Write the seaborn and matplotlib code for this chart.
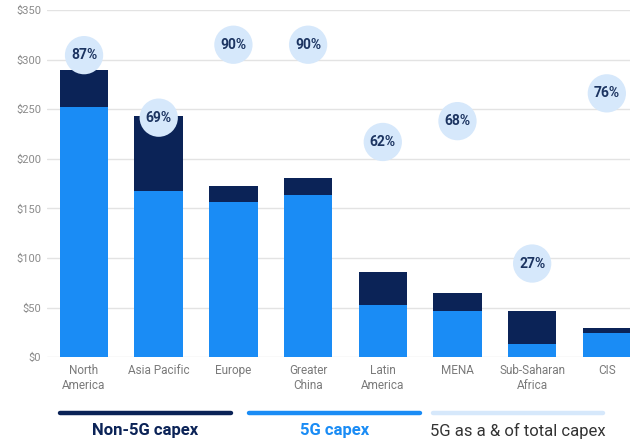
import matplotlib
matplotlib.use("Agg")
import matplotlib.pyplot as plt
import seaborn as sns
import pandas as pd

regions = ["North\nAmerica", "Asia Pacific", "Europe", "Greater\nChina",
           "Latin\nAmerica", "MENA", "Sub-Saharan\nAfrica", "CIS"]
capex_5g = [252, 168, 157, 164, 53, 47, 13, 24]
capex_total = [290, 243, 173, 181, 86, 65, 47, 30]
share_5g = [87, 69, 90, 90, 62, 68, 27, 76]
share_labels = ["87%", "69%", "90%", "90%", "62%", "68%", "27%", "76%"]
yticks = [0, 50, 100, 150, 200, 250, 300, 350]
legend_labels = ["Non-5G capex", "5G capex", "5G as a & of total capex"]

NAVY = "#0b2357"
BLUE = "#1a8cf5"
LIGHT = "#d6e8fb"
TXT = "#1c3461"

sns.set_theme(style="white")
plt.rcParams["font.family"] = ["Roboto", "DejaVu Sans"]

df = pd.DataFrame({"region": regions, "total": capex_total, "g5": capex_5g, "share": share_5g})

fig = plt.figure(figsize=(6.3, 4.43), dpi=100)
ax = fig.add_axes([46.7 / 630, 1 - 357.3 / 443, (630 - 46.7) / 630, (357.3 - 10) / 443])

sns.barplot(data=df, x="region", y="total", color=NAVY, width=0.65, saturation=1,
            linewidth=0, ax=ax, zorder=2)
sns.barplot(data=df, x="region", y="g5", color=BLUE, width=0.65, saturation=1,
            linewidth=0, ax=ax, zorder=3)

ax.set_ylim(0, 350)
ax.set_xlim(-0.5, 7.31)
ax.set_yticks(yticks)
ax.set_yticklabels([f"${v}" for v in yticks], color="#8a8a8a", fontsize=8)
ax.tick_params(axis="x", colors="#7a7a7a", labelsize=8.5, length=0, pad=5)
ax.tick_params(axis="y", length=0, pad=4)
ax.set_xlabel("")
ax.set_ylabel("")
ax.grid(axis="y", color="#e3e3e3", linewidth=1, zorder=0)
ax.set_axisbelow(True)
for s in ax.spines.values():
    s.set_visible(False)
for lab in ax.get_xticklabels():
    lab.set_color("#7a7a7a")
    lab.set_linespacing(1.2)

ax2 = ax.twinx()
ax2.set_ylim(0, 100)
ax2.set_xlim(ax.get_xlim())
sns.scatterplot(x=list(range(len(regions))), y=share_5g, s=760, color=LIGHT,
                edgecolor="none", ax=ax2, zorder=5, legend=False)
for i, (v, t) in enumerate(zip(share_5g, share_labels)):
    ax2.text(i, v, t, ha="center", va="center", fontsize=10, fontweight="bold",
             color=TXT, zorder=6)
ax2.set_yticks([])
ax2.set_ylabel("")
for s in ax2.spines.values():
    s.set_visible(False)

# legend
legend_specs = [
    (60, 231, NAVY, legend_labels[0], NAVY, "bold"),
    (249, 420, BLUE, legend_labels[1], BLUE, "bold"),
    (433, 603, LIGHT, legend_labels[2], "#333333", "normal"),
]
for x0, x1, lc, lab, tc, fw in legend_specs:
    fig.add_artist(plt.Line2D([x0 / 630, x1 / 630], [1 - 413 / 443] * 2, color=lc,
                              linewidth=3.2, transform=fig.transFigure))
    fig.text((x0 + x1) / 2 / 630, 1 - 431 / 443, lab, ha="center", va="center",
             fontsize=12, fontweight=fw, color=tc)

fig.savefig("out.png", dpi=100)
